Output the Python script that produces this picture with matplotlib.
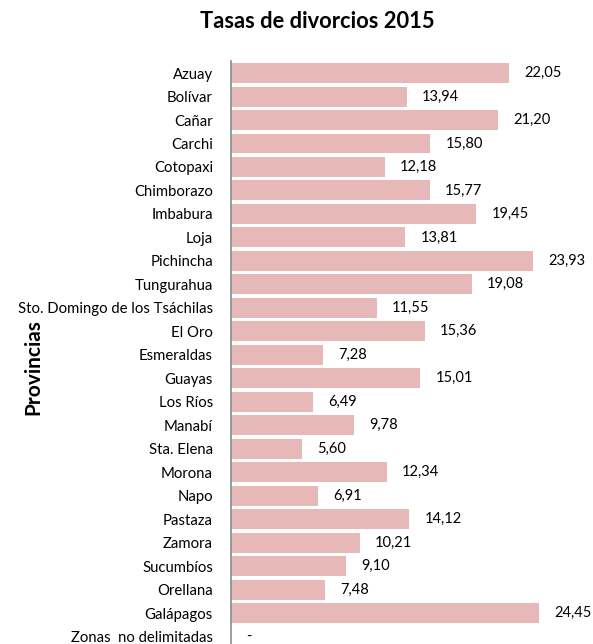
import numpy as np
import matplotlib.pyplot as plt

plt.rcParams['font.family'] = ['Lato', 'DejaVu Sans']

provincias = ["Azuay", "Bolívar", "Cañar", "Carchi", "Cotopaxi", "Chimborazo",
              "Imbabura", "Loja", "Pichincha", "Tungurahua",
              "Sto. Domingo de los Tsáchilas", "El Oro", "Esmeraldas", "Guayas",
              "Los Ríos", "Manabí", "Sta. Elena", "Morona", "Napo", "Pastaza",
              "Zamora", "Sucumbíos", "Orellana", "Galápagos", "Zonas  no delimitadas"]
tasas = [22.05, 13.94, 21.20, 15.80, 12.18, 15.77, 19.45, 13.81, 23.93, 19.08,
         11.55, 15.36, 7.28, 15.01, 6.49, 9.78, 5.60, 12.34, 6.91, 14.12,
         10.21, 9.10, 7.48, 24.45, 0.0]
etiquetas = ["22,05", "13,94", "21,20", "15,80", "12,18", "15,77", "19,45", "13,81",
             "23,93", "19,08", "11,55", "15,36", "7,28", "15,01", "6,49", "9,78",
             "5,60", "12,34", "6,91", "14,12", "10,21", "9,10", "7,48", "24,45", "-"]

fig = plt.figure(figsize=(5.93, 6.44), dpi=100)
renderer = fig.canvas.get_renderer()


def fit_size(txt, width_px, **kw):
    # font size that makes txt about width_px wide (reference uses Calibri)
    t = fig.text(0, 0, txt, fontsize=10, **kw)
    w = t.get_window_extent(renderer).width
    t.remove()
    return 10 * width_px / w


fs_tick = fit_size("Sto. Domingo de los Tsáchilas", 195)
fs_val = fit_size("23,93", 37)
fs_title = fit_size("Tasas de divorcios 2015", 235, fontweight='bold')
fs_ylab = fit_size("Provincias", 96, fontweight='bold')

ax = fig.add_axes([231 / 593, -0.0067, 1 - 231 / 593, 0.9115])

y = np.arange(len(provincias))
ax.barh(y, tasas, height=0.85, color='#E6B8B7')
ax.set_ylim(len(provincias) - 0.5, -0.5)
ax.set_xlim(0, 28.7)
ax.set_yticks(y)
ax.set_yticklabels(provincias, fontsize=fs_tick)
ax.tick_params(axis='y', length=0, pad=13)
ax.set_xticks([])

for s in ['top', 'right', 'bottom']:
    ax.spines[s].set_visible(False)
ax.spines['left'].set_color('#8c8c8c')
ax.spines['left'].set_linewidth(1.2)

for yi, v, lab in zip(y, tasas, etiquetas):
    ax.annotate(lab, (v, yi), xytext=(11, 0), textcoords='offset points',
                va='center', ha='left', fontsize=fs_val)

fig.text(317 / 593, 1 - 22 / 644, "Tasas de divorcios 2015", ha='center', va='center',
         fontsize=fs_title, fontweight='bold')
fig.text(33 / 593, 1 - 367 / 644, "Provincias", rotation=90, ha='center', va='center',
         fontsize=fs_ylab, fontweight='bold')

fig.savefig('out.png', dpi=100)
